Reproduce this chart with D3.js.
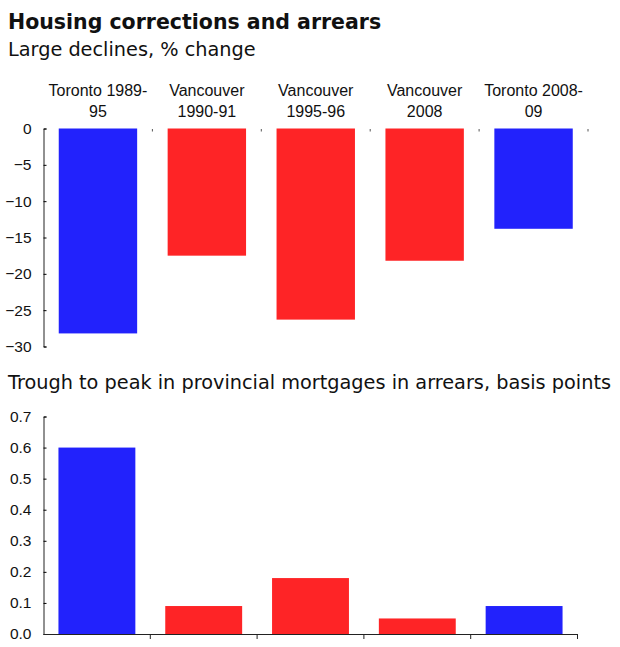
<!DOCTYPE html>
<html>
<head>
<meta charset="utf-8">
<script src="https://cdn.jsdelivr.net/npm/d3@7"></script>
<style>
  body { margin: 0; background: #fff; }
  svg text { fill: #111; }
</style>
</head>
<body>
<div id="chart"></div>
<script>
// categories, shared by both panels
var categories = ["Toronto 1989-95", "Vancouver 1990-91", "Vancouver 1995-96", "Vancouver 2008", "Toronto 2008-09"];
var labelLines = [["Toronto 1989-", "95"], ["Vancouver", "1990-91"], ["Vancouver", "1995-96"], ["Vancouver", "2008"], ["Toronto 2008-", "09"]];
var city = ["Toronto", "Vancouver", "Vancouver", "Vancouver", "Toronto"];

// panel 1: house price declines, % change
var declines = [-28.2, -17.5, -26.3, -18.2, -13.8];
var declineTicks = [0, -5, -10, -15, -20, -25, -30];

// panel 2: trough to peak in arrears
var arrears = [0.6, 0.09, 0.18, 0.05, 0.09];
var arrearsTicks = [0.0, 0.1, 0.2, 0.3, 0.4, 0.5, 0.6, 0.7];

var color = d3.scaleOrdinal().domain(["Toronto", "Vancouver"]).range(["#2222fc", "#fe2426"]);

var width = 620, height = 647;
var svg = d3.select("#chart").append("svg")
   .attr("width", width)
   .attr("height", height);

// titles
svg.append("text").attr("x", 8).attr("y", 29)
   .style("font-family", "'DejaVu Sans', Verdana, sans-serif")
   .style("font-weight", "700").style("font-size", "20.5px")
   .text("Housing corrections and arrears");
svg.append("text").attr("x", 8).attr("y", 56)
   .style("font-family", "'DejaVu Sans', Verdana, sans-serif")
   .style("font-size", "19.3px")
   .text("Large declines, % change");
svg.append("text").attr("x", 8).attr("y", 389)
   .style("font-family", "'DejaVu Sans', Verdana, sans-serif")
   .style("font-size", "19.3px")
   .text("Trough to peak in provincial mortgages in arrears, basis points");

var tickFont = "'Liberation Sans', Arial, sans-serif";

// ---------- top panel ----------
var x1 = d3.scaleBand().domain(categories)
   .range([43.5, 588])
   .paddingInner(0.28).paddingOuter(0.14);
var y1 = d3.scaleLinear().domain([-30, 0]).range([346.5, 128.5]);

svg.selectAll(".bar1")
   .data(declines).enter()
   .append("rect").attr("class", "bar1")
   .attr("x", function(d, i){ return x1(categories[i]); })
   .attr("width", x1.bandwidth())
   .attr("y", y1(0))
   .attr("height", function(d){ return y1(d) - y1(0); })
   .attr("fill", function(d, i){ return color(city[i]); });

var yAxis1 = svg.append("g")
   .attr("transform", "translate(43.5,0)")
   .call(d3.axisLeft(y1).tickValues(declineTicks).tickSize(-3).tickPadding(12).tickSizeOuter(-3));
yAxis1.selectAll("text").style("font-family", tickFont).style("font-size", "15.5px");
yAxis1.select(".domain").attr("stroke", "#222");

// category labels above the bars
var step1 = x1.step();
var cat = svg.selectAll(".cat")
   .data(labelLines).enter()
   .append("text").attr("class", "cat")
   .attr("text-anchor", "middle")
   .style("font-family", tickFont).style("font-size", "16px");
cat.each(function(lines, i){
   var el = d3.select(this);
   var cx = x1(categories[i]) + x1.bandwidth() / 2;
   lines.forEach(function(l, j){
      el.append("tspan").attr("x", cx).attr("y", 96 + j * 21).text(l);
   });
});

// little ticks along the zero line
svg.selectAll(".ztick")
   .data(categories).enter()
   .append("line").attr("class", "ztick")
   .attr("x1", function(d){ return x1(d) + x1.bandwidth() + step1 * 0.14; })
   .attr("x2", function(d){ return x1(d) + x1.bandwidth() + step1 * 0.14; })
   .attr("y1", y1(0) + 0.5).attr("y2", y1(0) + 3)
   .attr("stroke", "#555").attr("stroke-width", 1);

// ---------- bottom panel ----------
var x2 = d3.scaleBand().domain(categories)
   .range([43.5, 577.5])
   .paddingInner(0.28).paddingOuter(0.14);
var y2 = d3.scaleLinear().domain([0, 0.7]).range([634, 416.5]);

svg.selectAll(".bar2")
   .data(arrears).enter()
   .append("rect").attr("class", "bar2")
   .attr("x", function(d, i){ return x2(categories[i]); })
   .attr("width", x2.bandwidth())
   .attr("y", function(d){ return y2(d); })
   .attr("height", function(d){ return y2(0) - y2(d); })
   .attr("fill", function(d, i){ return color(city[i]); });

var yAxis2 = svg.append("g")
   .attr("transform", "translate(43.5,0)")
   .call(d3.axisLeft(y2).tickValues(arrearsTicks).tickFormat(d3.format(".1f")).tickSize(-3).tickPadding(12).tickSizeOuter(-3));
yAxis2.selectAll("text").style("font-family", tickFont).style("font-size", "15.5px");
yAxis2.select(".domain").attr("stroke", "#222");

// x axis with ticks at band boundaries
var step2 = x2.step();
var bounds = categories.map(function(d){ return x2(d) + x2.bandwidth() + step2 * 0.14; });
svg.append("line")
   .attr("x1", 43.5).attr("x2", 577.5)
   .attr("y1", y2(0) + 0.5).attr("y2", y2(0) + 0.5)
   .attr("stroke", "#222");
svg.selectAll(".btick")
   .data(bounds).enter()
   .append("line").attr("class", "btick")
   .attr("x1", function(d){ return d; }).attr("x2", function(d){ return d; })
   .attr("y1", y2(0)).attr("y2", y2(0) + 5)
   .attr("stroke", "#222");
</script>
</body>
</html>
